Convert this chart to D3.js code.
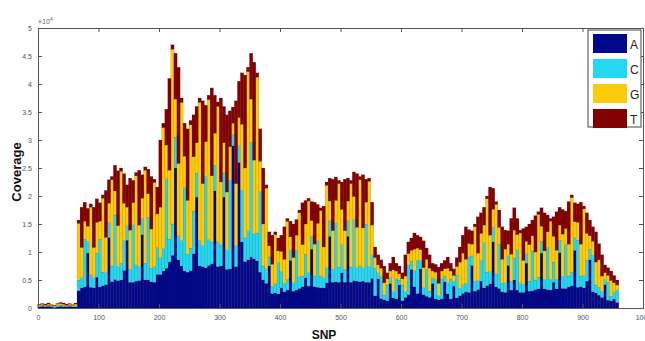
<!DOCTYPE html>
<html><head><meta charset="utf-8">
<script src="https://cdn.jsdelivr.net/npm/d3@7/dist/d3.min.js"></script>
<style>body{margin:0;background:#fff}svg{display:block}</style>
</head><body>
<svg id="c" width="645" height="341"></svg>
<script>
// Coverage values in units of 10^4, one bar per 5 SNPs (SNP 2,7,12,...,957)
const bases = ["A","C","G","T"];
const colors = ["#00088c","#22d8f2","#fccc0a","#820000"];
const A = [.02,.03,.02,.03,.02,.01,.02,.03,.02,.02,.03,.02,.02,
.31,.36,.38,.98,.37,.36,.55,.38,.40,.42,1.26,.47,.51,.49,.50,.67,1.21,.46,.46,.48,.49,1.31,.50,.50,.47,.46,.60,
.60,.66,.71,.82,.94,2.50,.86,.75,.66,.64,.67,.97,1.98,.75,.74,.72,.76,.79,2.09,.74,.75,1.98,.69,.70,2.90,.74,2.60,1.18,.83,.86,.91,.88,.84,
.64,.50,.44,.75,.26,.27,.25,.36,.29,.32,.85,.30,.32,.35,.38,.54,.39,1.05,.38,.37,.36,.36,.45,1.28,.46,.47,.46,.63,.46,1.28,.46,.49,.48,.47,.48,.46,.46,.53,
.22,.52,.17,.15,.13,.44,.18,.16,.41,.13,.19,.24,.69,.38,.26,.70,.24,.21,.19,.44,.16,.15,.16,.47,.25,.16,.39,.18,.22,
.26,.29,.28,.76,.30,.33,.48,.36,.40,.43,1.18,.38,.35,.29,.28,.76,.32,.50,.32,.28,.28,.80,.30,.31,.33,.34,.98,.34,.33,.32,.46,.34,.99,.35,.35,.38,.40,1.03,.37,.38,.36,.48,.86,.29,.27,.23,.19,.42,.14,.13,.16,.10];
const C = [.02,.02,.01,.02,.01,.02,.02,.02,.03,.01,.02,.01,.02,
.19,.18,.85,.21,.22,.18,.43,.85,.24,.21,.27,.28,1.15,.25,.30,.53,.26,.23,1.03,.29,.25,.29,.30,1.12,.24,.28,.48,
.30,.40,1.60,.41,.56,.55,.43,.45,1.49,.32,.40,.76,.43,.45,.37,1.63,.46,.39,.46,.44,.38,.43,.35,1.58,.20,.37,.30,.92,.42,.52,2.05,.44,.50,
1.44,.25,.26,.16,.13,.16,.56,.29,.15,.19,.19,.15,.71,.21,.19,.42,.24,.23,.19,.83,.21,.18,.27,.28,.23,1.05,.27,.50,.23,.28,.27,1.09,.24,.28,.24,1.04,.28,.42,
.49,.11,.39,.08,.28,.10,.11,.36,.09,.28,.10,.53,.15,.29,.59,.15,.12,.48,.11,.10,.35,.07,.36,.10,.20,.36,.08,.41,.13,
.16,.15,.63,.17,.18,.16,.37,.81,.24,.22,.26,.23,.79,.15,.17,.17,.16,.39,.72,.17,.14,.17,.18,.71,.17,.21,.21,.17,.75,.19,.36,.17,.22,.21,.78,.19,.24,.23,.84,.19,.22,.37,.19,.65,.14,.14,.10,.09,.32,.08,.13,.23];
const G = [.02,.02,.02,.02,.02,.01,.03,.03,.02,.02,.02,.02,.03,
1.01,.54,.32,.27,1.21,.54,.55,.32,1.32,.63,.34,1.54,.43,.73,1.64,.67,.33,.70,.39,1.59,.74,.36,1.66,.42,.70,1.50,.60,
.90,2.16,.60,1.23,3.12,.68,1.29,2.47,.56,.96,2.20,.97,.54,2.47,1.11,.62,2.50,1.18,.57,2.42,1.12,.54,1.03,.60,.20,1.11,.50,1.18,1.25,2.84,.77,1.32,2.78,
.54,.75,1.44,.20,.39,.88,.21,.36,.43,1.04,.23,.45,.27,1.14,.56,.54,1.28,.28,.57,.31,1.17,.55,1.47,.35,.69,.40,1.49,.63,.69,.35,1.49,.41,.72,1.54,.71,.39,1.52,.53,
.19,.14,.15,.22,.11,.12,.39,.14,.11,.11,.28,.20,.19,.38,.22,.19,.36,.18,.41,.12,.13,.22,.14,.13,.26,.14,.11,.15,.47,
.56,.43,.24,.21,.97,.49,.48,.31,1.31,.65,.32,1.24,.30,.43,.60,.21,.48,.50,.27,.89,.43,.22,.65,.27,.50,1.12,.27,.51,.28,1.04,.46,.52,.27,.76,.29,.57,1.33,.28,.32,.57,1.19,.48,.24,.25,.41,.49,.28,.12,.12,.28,.16,.08];
const T = [.01,.01,.02,.02,.01,.01,.01,.02,.02,.02,.01,.01,.02,
.06,.72,.34,.32,.06,.72,.42,.33,.06,.84,.42,.06,.46,.98,.06,.53,.40,.93,.40,.06,.98,.42,.06,.44,.94,.06,.48,
1.20,.08,.64,1.64,.08,.82,1.72,.08,.59,1.28,.08,.75,.65,.08,1.48,.65,.08,1.57,.68,.08,1.50,.65,1.38,.64,.29,1.48,.65,.92,1.66,.08,.82,1.75,.08,
.58,1.00,.06,.25,.52,.05,.23,.29,.58,.05,.28,.60,.28,.05,.75,.42,.05,.34,.75,.34,.05,.73,.06,.41,.92,.42,.06,.49,.92,.41,.06,.44,.96,.06,.95,.41,.06,.41,
.19,.18,.15,.30,.11,.14,.23,.14,.14,.11,.38,.21,.22,.29,.23,.23,.48,.20,.24,.14,.14,.29,.14,.15,.20,.14,.12,.16,.27,
.32,.58,.25,.24,.05,.65,.37,.32,.05,.86,.38,.05,.31,.58,.34,.24,.64,.40,.29,.05,.57,.26,.37,.28,.65,.05,.33,.68,.30,.05,.35,.69,.32,.44,.31,.76,.05,.34,.33,.75,.05,.37,.28,.26,.54,.29,.38,.14,.14,.17,.13,.09];
const nBars = Math.min(A.length, C.length, G.length, T.length);
const snp = d3.range(nBars).map(i => 2 + 5 * i);
const xTicks = [0,100,200,300,400,500,600,700,800,900,1000];
const yTicks = [0,0.5,1,1.5,2,2.5,3,3.5,4,4.5,5];
const yTickLabels = ["0","0.5","1","1.5","2","2.5","3","3.5","4","4.5","5"];

const svg = d3.select("#c");
const m = {l:38, r:643, t:28, b:308};
const x = d3.scaleLinear().domain([0,1000]).range([m.l, m.r]);
const y = d3.scaleLinear().domain([0,5]).range([m.b, m.t]);

const rows = snp.map((s,i) => ({snp:s, A:A[i], C:C[i], G:G[i], T:T[i]}));
const stack = d3.stack().keys(bases)(rows);
const bw = x(5) - x(0);

const g = svg.append("g");
stack.forEach((layer, k) => {
  g.selectAll(null).data(layer).enter().append("rect")
    .attr("x", d => x(d.data.snp) - bw/2)
    .attr("width", bw + 0.3)
    .attr("y", d => y(d[1]))
    .attr("height", d => Math.max(0, y(d[0]) - y(d[1])))
    .attr("fill", colors[k])
    .attr("stroke", "rgba(60,20,0,0.35)")
    .attr("stroke-width", 0.35);
});

// axes (MATLAB style box with inward ticks)
const axCol = "#555";
const tf = "Liberation Sans, Arial, sans-serif";
const xb = svg.append("g").attr("transform", `translate(0,${m.b})`)
  .call(d3.axisBottom(x).tickValues(xTicks).tickSize(-4).tickPadding(7).tickFormat(d3.format("d")));
const xt = svg.append("g").attr("transform", `translate(0,${m.t})`)
  .call(d3.axisTop(x).tickValues(xTicks).tickSize(-4).tickFormat(""));
const yl = svg.append("g").attr("transform", `translate(${m.l},0)`)
  .call(d3.axisLeft(y).tickValues(yTicks).tickSize(-4).tickPadding(6).tickFormat((d,i) => yTickLabels[i]));
const yr = svg.append("g").attr("transform", `translate(${m.r},0)`)
  .call(d3.axisRight(y).tickValues(yTicks).tickSize(-4).tickFormat(""));
[xb,xt,yl,yr].forEach(a => {
  a.selectAll("path").attr("stroke", axCol).attr("stroke-width", 1);
  a.selectAll("line").attr("stroke", axCol);
  a.selectAll("text").attr("fill", "#555").style("font-family", tf).style("font-size", "7px");
});

// exponent label
const ex = svg.append("text").attr("x", 38).attr("y", 24).attr("fill", "#666")
  .style("font-family", tf).style("font-size", "7px");
ex.append("tspan").text("×10");
ex.append("tspan").attr("dy", -3).style("font-size", "5px").text("4");

// axis titles
svg.append("text").attr("transform", "translate(21,172) rotate(-90)")
  .attr("text-anchor", "middle").attr("fill", "#111")
  .style("font-family", tf).style("font-size", "13px").style("font-weight", "bold").text("Coverage");
svg.append("text").attr("x", 324).attr("y", 339).attr("text-anchor", "middle").attr("fill", "#111")
  .style("font-family", tf).style("font-size", "12px").style("font-weight", "bold").text("SNP");

// legend
const lg = svg.append("g");
lg.append("rect").attr("x", 588).attr("y", 30).attr("width", 53).attr("height", 97)
  .attr("fill", "#fff").attr("stroke", "#444").attr("stroke-width", 1);
bases.forEach((b, k) => {
  lg.append("rect").attr("x", 593).attr("y", 34 + k*25).attr("width", 34).attr("height", 19).attr("fill", colors[k]);
  lg.append("text").attr("x", 630).attr("y", 49 + k*25).attr("fill", "#222")
    .style("font-family", tf).style("font-size", "12px").text(b);
});
</script>
</body></html>
